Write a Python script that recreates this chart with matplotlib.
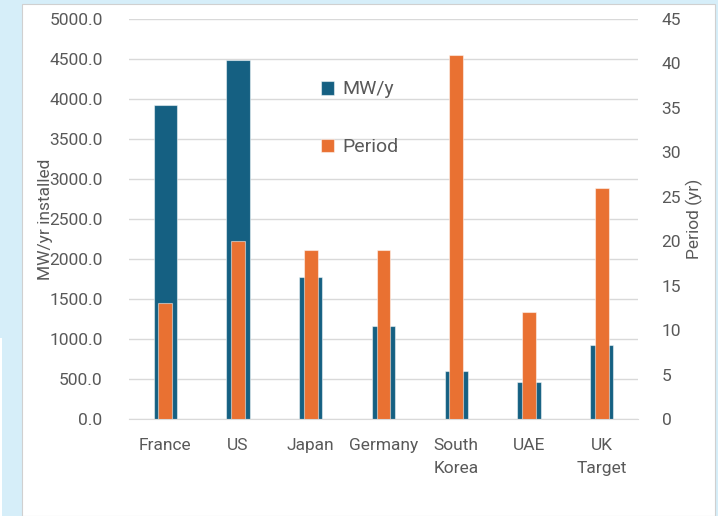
import numpy as np
import matplotlib.pyplot as plt
from matplotlib.patches import Rectangle

plt.rcParams['font.family'] = ['Roboto', 'DejaVu Sans']

# data
countries = ['France', 'US', 'Japan', 'Germany', 'South\nKorea', 'UAE', 'UK\nTarget']
mw_per_year = [3930, 4490, 1780, 1160, 600, 460, 920]
period_yr = [13, 20, 19, 19, 41, 12, 26]

blue = '#156082'
orange = '#E97132'
grey_txt = '#595959'

fig = plt.figure(figsize=[7.18, 5.16], dpi=100, facecolor='#d6eef9')

# white chart panel on the light blue page
W, H = 718, 516
fig.patches.append(Rectangle((22 / W, 0), (715 - 22) / W, (516 - 4) / H,
                             transform=fig.transFigure, facecolor='white',
                             edgecolor='#d0d0d0', linewidth=0.8, zorder=-2))
fig.patches.append(Rectangle((0, 0), 2 / W, (516 - 338) / H,
                             transform=fig.transFigure, facecolor='white',
                             edgecolor='none', zorder=-2))

ax = fig.add_axes([129 / W, 1 - 419 / H, (638 - 129) / W, 400 / H])
ax.set_facecolor('none')
x = np.arange(len(countries))

ax.bar(x, mw_per_year, width=0.32, color=blue, edgecolor=(1, 1, 1, 0.5),
       linewidth=0.8, label='MW/y', zorder=2)
ax.set_ylim(0, 5000)
ax.set_yticks(np.arange(0, 5001, 500))
ax.set_yticklabels(['%.1f' % v for v in np.arange(0, 5001, 500)])
ax.set_xlim(-0.5, len(countries) - 0.5)
ax.set_xticks(x)
ax.set_xticklabels(countries, linespacing=1.65)
ax.grid(axis='y', color='#d9d9d9', linewidth=1, zorder=0)
ax.set_axisbelow(True)
for s in ['top', 'right', 'left']:
    ax.spines[s].set_visible(False)
ax.spines['bottom'].set_color('#d9d9d9')
ax.tick_params(axis='both', length=0, labelsize=12.5, labelcolor=grey_txt)
ax.tick_params(axis='y', pad=19)
ax.tick_params(axis='x', pad=14)
ax.set_ylabel('MW/yr installed', fontsize=12.5, color=grey_txt, labelpad=-2.5)

ax2 = ax.twinx()
ax2.bar(x, period_yr, width=0.19, color=orange, edgecolor=(1, 1, 1, 0.5),
        linewidth=0.8, label='Period', zorder=3)
ax2.set_ylim(0, 45)
ax2.set_yticks(np.arange(0, 46, 5))
for s in ['top', 'right', 'left', 'bottom']:
    ax2.spines[s].set_visible(False)
ax2.tick_params(axis='y', length=0, labelsize=12.5, labelcolor=grey_txt, pad=17)
ax2.set_ylabel('Period (yr)', fontsize=12.5, color=grey_txt, labelpad=3.5)

h1, l1 = ax.get_legend_handles_labels()
h2, l2 = ax2.get_legend_handles_labels()
leg = ax2.legend(h1 + h2, l1 + l2, loc='upper left', bbox_to_anchor=(0.342, 0.89),
                 frameon=False, fontsize=14, labelspacing=2.05,
                 handlelength=0.7, handleheight=0.7, handletextpad=0.4)
for t in leg.get_texts():
    t.set_color(grey_txt)

fig.savefig('out.png', dpi=100, facecolor=fig.get_facecolor())
